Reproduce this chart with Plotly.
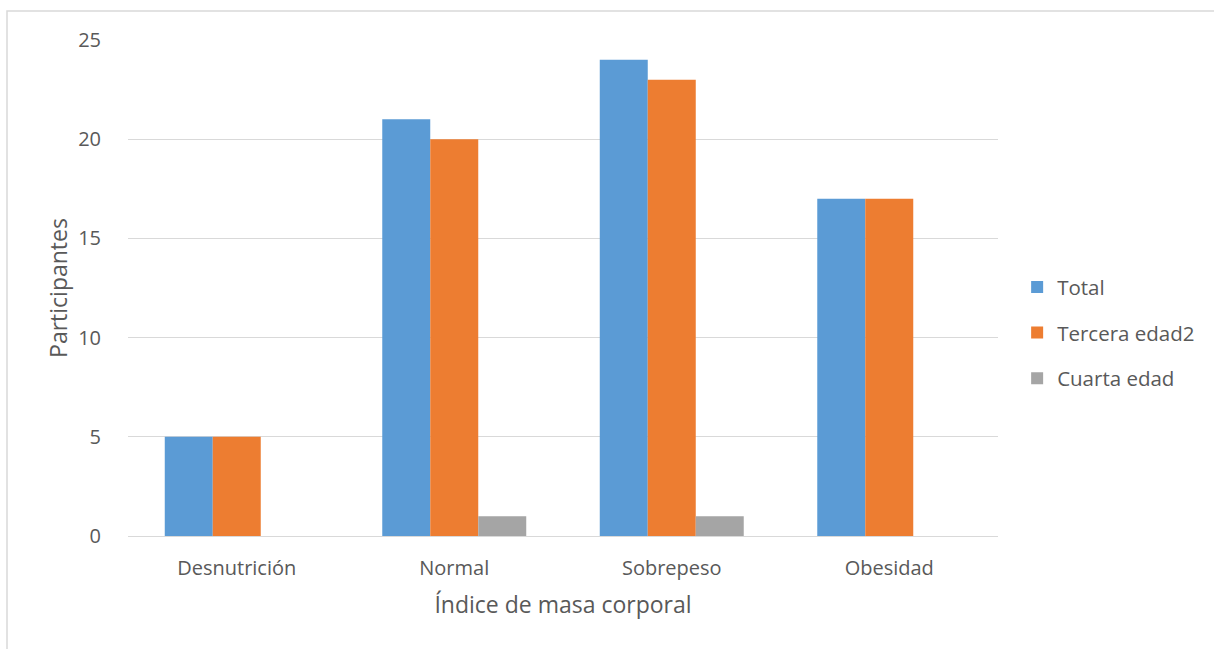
import plotly.graph_objects as go

categories = ["Desnutrición", "Normal", "Sobrepeso", "Obesidad"]
total = [5, 21, 24, 17]
tercera = [5, 20, 23, 17]
cuarta = [0, 1, 1, 0]
series_names = ["Total", "Tercera edad2", "Cuarta edad"]
colors = ["#5B9BD5", "#ED7D31", "#A5A5A5"]
y_ticks = [0, 5, 10, 15, 20, 25]

FONT = "Open Sans"
fig = go.Figure()
for i, (name, vals) in enumerate(zip(series_names, [total, tercera, cuarta])):
    fig.add_trace(go.Bar(x=categories, y=vals, name=name, marker_color=colors[i],
                         marker_line_width=0, legendgroup=name))

fig.update_layout(
    width=1214, height=649,
    margin=dict(l=128, r=216, t=40, b=113),
    paper_bgcolor="white", plot_bgcolor="white",
    barmode="group", bargap=0.338, bargroupgap=0,
    font=dict(family=FONT, color="#595959", size=16),
    legend=dict(x=1.022, y=0.41, xanchor="left", yanchor="middle",
                font=dict(size=20.5, color="#595959"), tracegroupgap=16,
                itemwidth=30),
    showlegend=True,
)
fig.update_xaxes(showline=True, linecolor="#D9D9D9", linewidth=1, showgrid=False,
                 ticks="outside", ticklen=14, tickcolor="rgba(0,0,0,0)",
                 tickfont=dict(size=20, color="#595959"),
                 title=dict(text="Índice de masa corporal", font=dict(size=23, color="#595959"), standoff=16))
fig.update_yaxes(range=[0, 25], tickvals=y_ticks, showgrid=True, gridcolor="#D9D9D9",
                 zeroline=False, showline=False,
                 ticks="outside", ticklen=22, tickcolor="rgba(0,0,0,0)",
                 tickfont=dict(size=20, color="#595959"),
                 title=dict(text="Participantes", font=dict(size=23, color="#595959"), standoff=4))
fig.add_shape(type="rect", xref="paper", yref="paper",
              x0=-121/870, y0=-200/496, x1=1 + 300/870, y1=1 + 29/496,
              line=dict(color="#D9D9D9", width=1.5), fillcolor="rgba(0,0,0,0)", layer="below")

fig.write_html("out.html")
